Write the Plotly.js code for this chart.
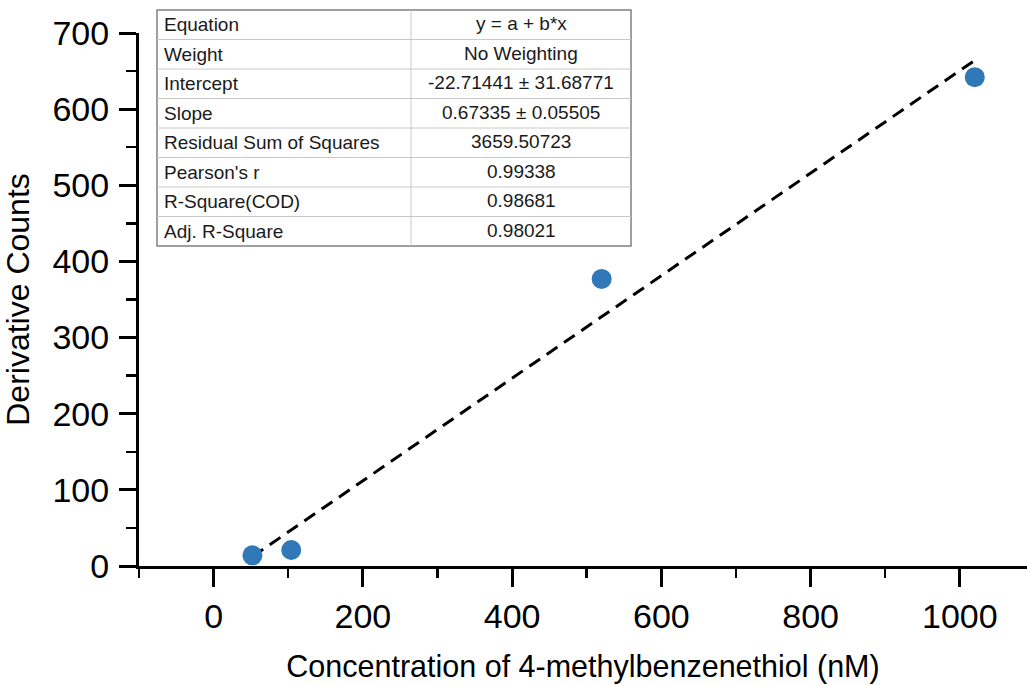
<!DOCTYPE html>
<html>
<head>
<meta charset="utf-8">
<script src="https://cdn.plot.ly/plotly-3.0.1.min.js"></script>
<style>html,body{margin:0;padding:0;background:#fff;overflow:hidden;}</style>
</head>
<body>
<div id="chart" style="width:1027px;height:685px;"></div>
<script>
// ---- data ----
const concentration = [52, 104, 520, 1020];
const derivativeCounts = [14, 21, 377, 642];
const fitIntercept = -22.71441;
const fitSlope = 0.67335;
const fitX = [52, 1022];
const tableLabels = ["Equation", "Weight", "Intercept", "Slope", "Residual Sum of Squares", "Pearson's r", "R-Square(COD)", "Adj. R-Square"];
const tableValues = ["y = a + b*x", "No Weighting", "-22.71441 ± 31.68771", "0.67335 ± 0.05505", "3659.50723", "0.99338", "0.98681", "0.98021"];
const xTickVals = [0, 200, 400, 600, 800, 1000];
const yTickVals = [0, 100, 200, 300, 400, 500, 600, 700];

// ---- layout geometry ----
const W = 1027, H = 685, ML = 139, MR = 0, MT = 33, MB = 119;
const PW = W - ML - MR, PH = H - MT - MB;
const px = p => (p - ML) / PW;
const py = p => (H - MB - p) / PH;

const fitY = fitX.map(x => fitIntercept + fitSlope * x);
const FONT = "Arial, 'Liberation Sans', sans-serif";

const traces = [
  {
    x: fitX, y: fitY, mode: "lines", type: "scatter",
    line: {color: "#000000", width: 3, dash: "13px,8px"},
    hoverinfo: "skip", showlegend: false
  },
  {
    x: concentration, y: derivativeCounts, mode: "markers", type: "scatter",
    marker: {color: "#3178B8", size: 20},
    showlegend: false
  }
];

// ---- table box ----
const tL = 157, tR = 631, tT = 10, tB = 246, tMid = 411;
const rowH = (tB - tT) / tableLabels.length;
const shapes = [];
shapes.push({type: "rect", xref: "paper", yref: "paper", x0: px(tL), x1: px(tR), y0: py(tB), y1: py(tT),
  fillcolor: "#ffffff", line: {color: "#808080", width: 1.5}, layer: "above"});
for (let i = 1; i < tableLabels.length; i++) {
  const yy = tT + i * rowH;
  shapes.push({type: "line", xref: "paper", yref: "paper", x0: px(tL), x1: px(tR), y0: py(yy), y1: py(yy),
    line: {color: "#c8c8c8", width: 1}, layer: "above"});
}
shapes.push({type: "line", xref: "paper", yref: "paper", x0: px(tMid), x1: px(tMid), y0: py(tB), y1: py(tT),
  line: {color: "#c8c8c8", width: 1}, layer: "above"});

const annotations = [];
tableLabels.forEach((lab, i) => {
  const yc = tT + (i + 0.5) * rowH;
  annotations.push({xref: "paper", yref: "paper", x: px(162), y: py(yc), xanchor: "left", yanchor: "middle",
    text: lab, showarrow: false, font: {family: FONT, size: 19, color: "#1a1a1a"}});
  annotations.push({xref: "paper", yref: "paper", x: px((tMid + tR) / 2), y: py(yc - 1), xanchor: "center", yanchor: "middle",
    text: tableValues[i], showarrow: false, font: {family: FONT, size: 19, color: "#1a1a1a"}});
});

const layout = {
  width: W, height: H,
  margin: {l: ML, r: MR, t: MT, b: MB, pad: 0},
  paper_bgcolor: "#ffffff", plot_bgcolor: "#ffffff",
  font: {family: FONT, color: "#000000"},
  showlegend: false,
  xaxis: {
    range: [-100, 1090], showgrid: false, zeroline: false,
    showline: true, linecolor: "#000000", linewidth: 3,
    ticks: "outside", ticklen: 18, tickwidth: 3, tickcolor: "#000000",
    tickvals: xTickVals, ticktext: xTickVals.map(String),
    tickfont: {family: FONT, size: 34, color: "#000000"},
    minor: {dtick: 100, tick0: 0, ticks: "outside", ticklen: 9, tickwidth: 2.5, tickcolor: "#000000", showgrid: false},
    title: {text: "Concentration of 4-methylbenzenethiol (nM)", font: {family: FONT, size: 30.5, color: "#000000"}, standoff: 22}
  },
  yaxis: {
    range: [0, 700], showgrid: false, zeroline: false,
    showline: true, linecolor: "#000000", linewidth: 3,
    ticks: "outside", ticklen: 17, tickwidth: 3, tickcolor: "#000000",
    ticklabelstandoff: 3,
    tickvals: yTickVals, ticktext: yTickVals.map(String),
    tickfont: {family: FONT, size: 34, color: "#000000"},
    minor: {dtick: 50, tick0: 0, ticks: "outside", ticklen: 10, tickwidth: 2.5, tickcolor: "#000000", showgrid: false},
    title: {text: "Derivative Counts", font: {family: FONT, size: 32, color: "#000000"}, standoff: 14}
  },
  shapes: shapes,
  annotations: annotations
};

Plotly.newPlot("chart", traces, layout, {displayModeBar: false, staticPlot: true});
</script>
</body>
</html>
